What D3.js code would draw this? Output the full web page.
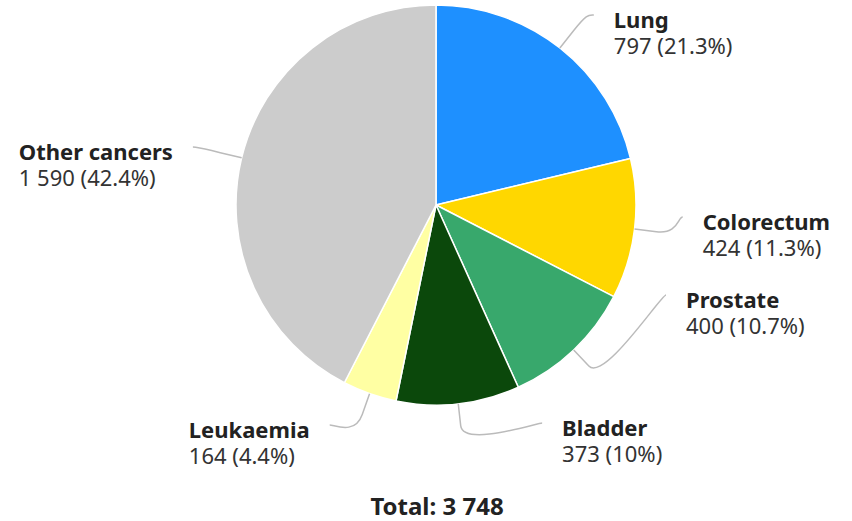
<!DOCTYPE html>
<html><head><meta charset="utf-8">
<script src="https://cdn.jsdelivr.net/npm/d3@7"></script>
<style>body{margin:0;background:#fff} text{font-family:"Noto Sans",sans-serif}</style>
</head><body><svg id="c" width="852" height="521"></svg>
<script>
const categories = ["Lung","Colorectum","Prostate","Bladder","Leukaemia","Other cancers"];
const values = [797,424,400,373,164,1590];
const colors = ["#1e90ff","#ffd700","#38a86c","#0b480b","#ffffa3","#cccccc"];
// label layout (connector end y, and horizontal nudge)
const labelY = [15,217,295,423,425,147];
const labelDx = [0,0,0,-10,6,-3];

const W = 852, H = 521, cx = 436, cy = 205, r = 200, R = 247;
const svg = d3.select("#c");
const loc = d3.formatLocale({decimal:".", thousands:" ", grouping:[3], currency:["",""]});
const fmt = loc.format(",");
const total = d3.sum(values);
const pct = v => { let s = (v/total*100).toFixed(1); if (s.endsWith(".0")) s = s.slice(0,-2); return s; };

const data = categories.map((c,i)=>({name:c, value:values[i], color:colors[i], ly:labelY[i], dx:labelDx[i]}));
const pie = d3.pie().value(d=>d.value).sort(null);
const arcs = pie(data);
const arc = d3.arc().innerRadius(0).outerRadius(r);
const g = svg.append("g").attr("transform",`translate(${cx},${cy})`);
g.selectAll("path.s").data(arcs).join("path").attr("class","s")
  .attr("d",arc).attr("fill",d=>d.data.color).attr("stroke","#fff").attr("stroke-width",1.5).attr("stroke-linejoin","round");

const polar = (a, rad) => [cx + Math.sin(a)*rad, cy - Math.cos(a)*rad];
arcs.forEach(a => {
  const mid = (a.startAngle + a.endAngle)/2;
  const right = Math.sin(mid) > 0;
  const T = polar(mid, r);
  const B = polar(mid, r + 22);
  const y = a.data.ly;
  const dy = Math.max(-1, Math.min(1, (y - cy)/R));
  const x = cx + (right?1:-1) * Math.cos(Math.asin(dy)) * R + a.data.dx;
  const p = d3.path();
  p.moveTo(x, y);
  p.bezierCurveTo(x + (right?-5:5), y, 2*B[0]-T[0], 2*B[1]-T[1], B[0], B[1]);
  p.lineTo(T[0], T[1]);
  svg.append("path").attr("d", p.toString()).attr("fill","none").attr("stroke","#bbbbbb").attr("stroke-width",1.5);
  const t = svg.append("text").attr("font-size",22);
  const s1 = t.append("tspan").attr("y",y+13).attr("font-weight","bold").attr("fill","#222").text(a.data.name);
  const s2 = t.append("tspan").attr("y",y+39).attr("fill","#333").text(`${fmt(a.data.value)} (${pct(a.data.value)}%)`);
  let tx = x + 20;
  if (!right) {
    const w = Math.max(s1.node().getComputedTextLength(), s2.node().getComputedTextLength());
    tx = x - 20 - w;
  }
  s1.attr("x", tx); s2.attr("x", tx);
});

svg.append("text").attr("x",437).attr("y",515).attr("text-anchor","middle").attr("font-size",24)
  .attr("font-weight","bold").attr("fill","#222").text(`Total: ${fmt(total)}`);
</script></body></html>
